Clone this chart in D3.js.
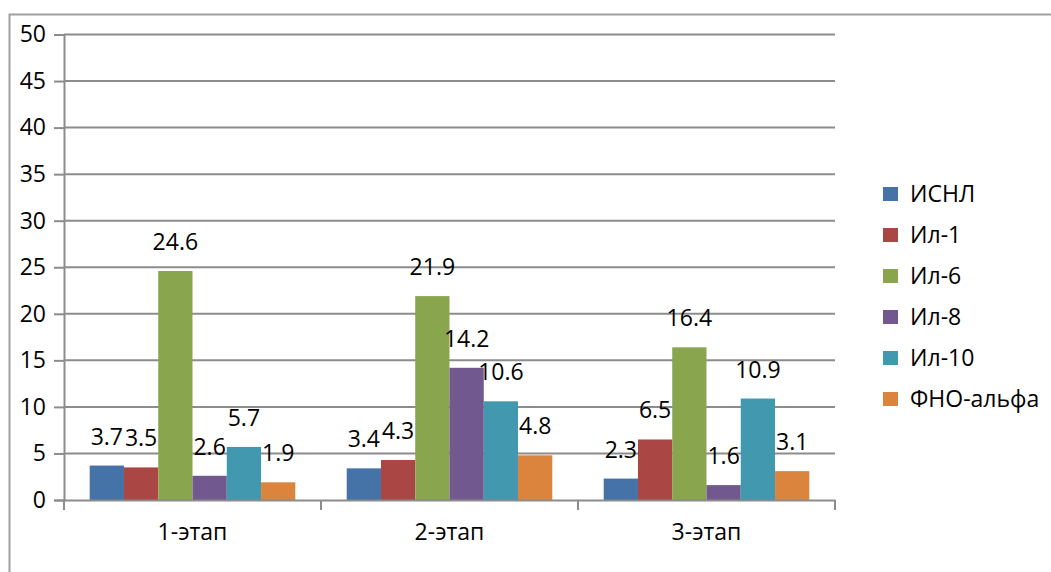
<!DOCTYPE html>
<html>
<head>
<meta charset="utf-8">
<script src="https://cdn.jsdelivr.net/npm/d3@7"></script>
<style>
  html, body { margin: 0; padding: 0; background: #fff; }
  svg { display: block; font-family: "Open Sans", sans-serif; }
</style>
</head>
<body>
<svg id="chart" width="1051" height="572"></svg>
<script>
// Stages along the x axis
const categories = ["1-этап", "2-этап", "3-этап"];
// Indicator series
const seriesNames = ["ИСНЛ", "Ил-1", "Ил-6", "Ил-8", "Ил-10", "ФНО-альфа"];
const seriesColors = ["#4572A7", "#AA4643", "#89A54E", "#71588F", "#4198AF", "#DB843D"];
// Values per series, one per stage
const isnl   = [3.7, 3.4, 2.3];
const il1    = [3.5, 4.3, 6.5];
const il6    = [24.6, 21.9, 16.4];
const il8    = [2.6, 14.2, 1.6];
const il10   = [5.7, 10.6, 10.9];
const fnoAlf = [1.9, 4.8, 3.1];
const yTicks = [0, 5, 10, 15, 20, 25, 30, 35, 40, 45, 50];

const seriesValues = [isnl, il1, il6, il8, il10, fnoAlf];

const svg = d3.select("#chart");
const plot = { left: 64, right: 835, top: 34.5, bottom: 500 };
const gridColor = "#8c8c8c";
const fontSize = 23;

// Outer chart frame (top and left edges)
svg.append("path")
  .attr("d", "M9.5,572 L9.5,14.5 L1051,14.5")
  .attr("fill", "none")
  .attr("stroke", "#a0a0a0")
  .attr("stroke-width", 2);

const x0 = d3.scaleBand().domain(categories).range([plot.left, plot.right]).paddingInner(0).paddingOuter(0);
const x1 = d3.scaleBand().domain(seriesNames).range([0, x0.bandwidth()]).paddingInner(0).paddingOuter(0.75);
const y = d3.scaleLinear().domain([0, 50]).range([plot.bottom, plot.top]);

// Horizontal gridlines
svg.append("g")
  .selectAll("line")
  .data(yTicks.filter(d => d > 0))
  .join("line")
  .attr("x1", plot.left).attr("x2", plot.right)
  .attr("y1", d => y(d)).attr("y2", d => y(d))
  .attr("stroke", gridColor).attr("stroke-width", 2);

// Y axis
const yAxis = svg.append("g")
  .attr("transform", `translate(${plot.left},0)`)
  .call(d3.axisLeft(y).tickValues(yTicks).tickSize(10).tickPadding(8).tickFormat(d3.format("d")));
yAxis.select(".domain").attr("stroke", gridColor).attr("stroke-width", 2);
yAxis.selectAll(".tick line").attr("stroke", gridColor).attr("stroke-width", 2);
yAxis.selectAll(".tick text")
  .attr("fill", "#000").attr("font-size", fontSize)
  .attr("font-family", "'Open Sans', sans-serif");

// Bars
const groups = svg.append("g")
  .selectAll("g")
  .data(categories)
  .join("g")
  .attr("transform", d => `translate(${x0(d)},0)`);

groups.selectAll("rect")
  .data((c, ci) => seriesNames.map((s, si) => ({ s, si, v: seriesValues[si][ci] })))
  .join("rect")
  .attr("x", d => x1(d.s))
  .attr("width", x1.bandwidth())
  .attr("y", d => y(d.v))
  .attr("height", d => y(0) - y(d.v))
  .attr("fill", d => seriesColors[d.si]);

// Value labels above bars
groups.selectAll("text")
  .data((c, ci) => seriesNames.map((s, si) => ({ s, si, v: seriesValues[si][ci] })))
  .join("text")
  .attr("x", d => x1(d.s) + x1.bandwidth() / 2)
  .attr("y", d => y(d.v) - 21)
  .attr("text-anchor", "middle")
  .attr("font-size", fontSize)
  .attr("fill", "#000")
  .text(d => d3.format(".1f")(d.v));

// X axis
const xAxis = svg.append("g")
  .attr("transform", `translate(0,${plot.bottom})`)
  .call(d3.axisBottom(x0).tickSize(0).tickPadding(24));
xAxis.select(".domain").attr("stroke", gridColor).attr("stroke-width", 2);
xAxis.selectAll(".tick text")
  .attr("fill", "#000").attr("font-size", fontSize)
  .attr("font-family", "'Open Sans', sans-serif");

// Category separator ticks
svg.append("g")
  .selectAll("line")
  .data(categories.map(c => x0(c)).concat([plot.right]))
  .join("line")
  .attr("x1", d => d).attr("x2", d => d)
  .attr("y1", plot.bottom).attr("y2", plot.bottom + 10)
  .attr("stroke", gridColor).attr("stroke-width", 2);

// Legend
const legend = svg.append("g")
  .selectAll("g")
  .data(seriesNames)
  .join("g")
  .attr("transform", (d, i) => `translate(883,${194 + i * 41})`);
legend.append("rect")
  .attr("x", 0).attr("y", -7).attr("width", 15).attr("height", 14)
  .attr("fill", (d, i) => seriesColors[i]);
legend.append("text")
  .attr("x", 27).attr("y", 0).attr("dy", "0.35em")
  .attr("font-size", fontSize).attr("fill", "#000")
  .text(d => d);
</script>
</body>
</html>
